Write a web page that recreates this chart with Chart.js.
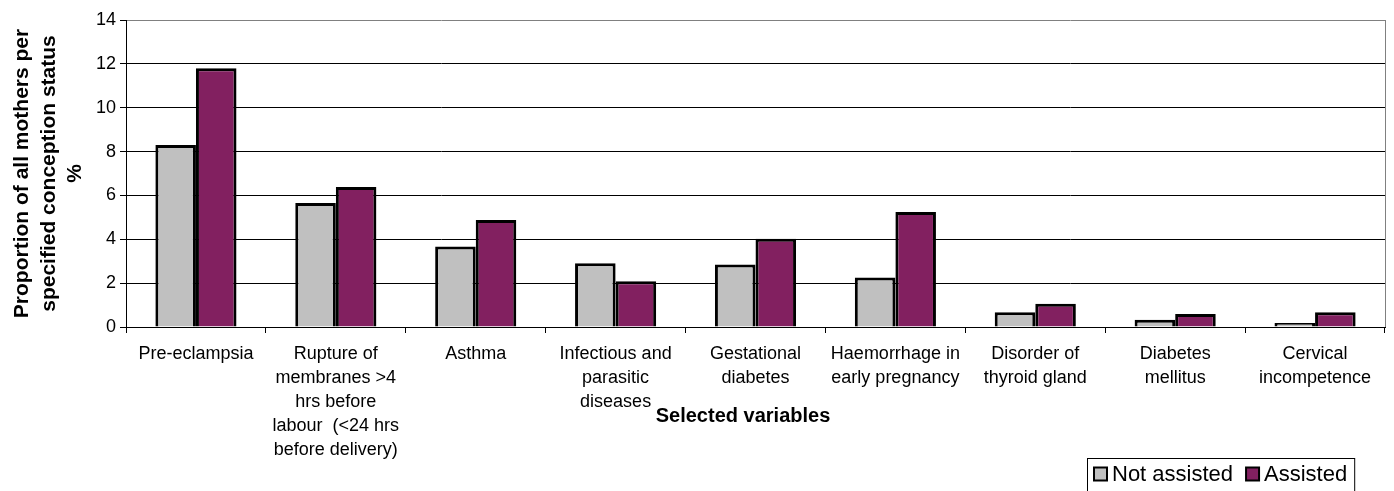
<!DOCTYPE html>
<html>
<head>
<meta charset="utf-8">
<script src="https://cdn.jsdelivr.net/npm/chart.js@4/dist/chart.umd.min.js"></script>
<style>
html, body { margin: 0; padding: 0; background: #fff; }
</style>
</head>
<body>
<canvas id="chart" width="1394" height="491"></canvas>
<script>
// categories (multi-line labels, as wrapped in the original)
const categories = [
  ["Pre-eclampsia"],
  ["Rupture of", "membranes >4", "hrs before", "labour  (<24 hrs", "before delivery)"],
  ["Asthma"],
  ["Infectious and", "parasitic", "diseases"],
  ["Gestational", "diabetes"],
  ["Haemorrhage in", "early pregnancy"],
  ["Disorder of", "thyroid gland"],
  ["Diabetes", "mellitus"],
  ["Cervical", "incompetence"]
]

const notAssisted = [8.3, 5.65, 3.67, 2.91, 2.85, 2.26, 0.67, 0.33, 0.18]
const assisted = [11.8, 6.38, 4.88, 2.09, 4.02, 5.24, 1.06, 0.59, 0.67]

const seriesNames = ["Not assisted", "Assisted"]
const yMin = 0
const yMax = 14
const yStep = 2

const yTitle = ["Proportion of all mothers per", "specified conception status", "%"]
const xTitle = "Selected variables"

const FONT = "'Liberation Sans', Arial, sans-serif"

// extra bits the library doesn't do: right frame, x title, boxed legend
const extras = {
  id: "extras",
  afterDraw(chart) {
    const c = chart.ctx
    const a = chart.chartArea
    c.save()

    // grey frame right side
    c.strokeStyle = "#808080"
    c.lineWidth = 1
    c.beginPath()
    c.moveTo(a.right + 0.5, a.top)
    c.lineTo(a.right + 0.5, a.bottom)
    c.stroke()

    // x axis title
    c.fillStyle = "#000"
    c.font = "bold 20px " + FONT
    c.textAlign = "center"
    c.textBaseline = "middle"
    c.fillText(xTitle, 743, 416)

    // legend
    c.font = "22px " + FONT
    c.textAlign = "left"
    let x = 1094
    const y = 474
    const lx = 1087
    chart.data.datasets.forEach(ds => {
      c.fillStyle = ds.backgroundColor
      c.fillRect(x, y - 6.5, 13, 13)
      c.strokeStyle = "#000"
      c.lineWidth = 2
      c.strokeRect(x, y - 6.5, 13, 13)
      c.fillStyle = "#000"
      c.fillText(ds.label, x + 18, y + 1)
      x += 18 + c.measureText(ds.label).width + 13
    })
    c.strokeStyle = "#000"
    c.lineWidth = 1
    c.strokeRect(lx + 0.5, 458.5, (x - 13 + 7) - lx, 40)

    c.restore()
  }
}

new Chart(document.getElementById("chart"), {
  type: "bar",
  data: {
    labels: categories,
    datasets: [
      {
        label: seriesNames[0],
        data: notAssisted,
        backgroundColor: "#C0C0C0",
        borderColor: "#000",
        borderWidth: 3,
        borderSkipped: "bottom",
        categoryPercentage: 0.58,
        barPercentage: 1.0
      },
      {
        label: seriesNames[1],
        data: assisted,
        backgroundColor: "#822060",
        borderColor: "#000",
        borderWidth: 3,
        borderSkipped: "bottom",
        categoryPercentage: 0.58,
        barPercentage: 1.0
      }
    ]
  },
  options: {
    responsive: false,
    devicePixelRatio: 1,
    animation: false,
    layout: { padding: { top: 20, right: 9, bottom: 0, left: 0 } },
    plugins: {
      legend: { display: false },
      tooltip: { enabled: false }
    },
    scales: {
      x: {
        afterFit: s => { s.height = 164 },
        grid: {
          offset: true,
          drawOnChartArea: false,
          tickLength: 6,
          color: "#000",
          lineWidth: 1
        },
        border: { color: "#000", width: 1 },
        ticks: {
          color: "#000",
          font: { family: FONT, size: 18, lineHeight: 1.33 },
          padding: 9,
          maxRotation: 0,
          autoSkip: false
        }
      },
      y: {
        min: yMin,
        max: yMax,
        afterFit: s => { s.width = 126 },
        grid: {
          color: ctx => ctx.tick && ctx.tick.value === yMax ? "#808080" : "#000",
          tickColor: "#000",
          tickLength: 6,
          lineWidth: 1
        },
        border: { color: "#000", width: 1 },
        ticks: {
          stepSize: yStep,
          color: "#000",
          font: { family: FONT, size: 18 },
          padding: 4
        },
        title: {
          display: true,
          text: yTitle,
          color: "#000",
          font: { family: FONT, size: 21, weight: "bold", lineHeight: 1.27 },
          padding: { top: 9, bottom: 0 }
        }
      }
    }
  },
  plugins: [extras]
})
</script>
</body>
</html>
